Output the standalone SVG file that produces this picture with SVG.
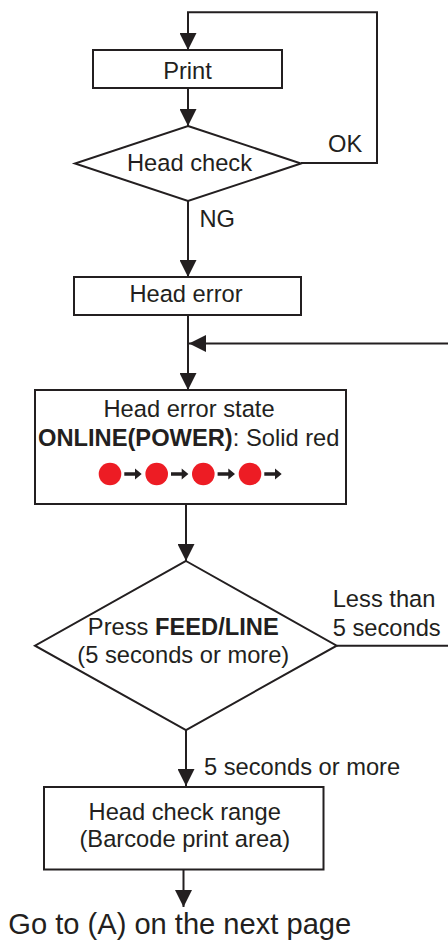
<svg xmlns="http://www.w3.org/2000/svg" width="448" height="941" viewBox="0 0 448 941">
<style>
.box{fill:#fff;stroke:#231f20;stroke-width:2}
.ln{fill:none;stroke:#231f20;stroke-width:2}
text{font-family:"Liberation Sans",Arial,sans-serif;font-size:23.7px;fill:#231f20}
.c{text-anchor:middle}
.b{font-weight:bold}
.dot{fill:#ed1c24}
.sa{fill:#231f20}
</style>
<defs>
<marker id="ah" markerUnits="userSpaceOnUse" markerWidth="17" markerHeight="17" refX="17" refY="8.5" orient="auto" viewBox="0 0 17 17">
<path d="M0,0 L17,8.5 L0,17 z" fill="#231f20"/>
</marker>
</defs>
<rect width="448" height="941" fill="#fff"/>
<g id="connectors">
<polyline class="ln" points="301,163 377,163 377,12.3 188,12.3 188,50" marker-end="url(#ah)"/>
<line class="ln" x1="188" y1="88" x2="188" y2="126" marker-end="url(#ah)"/>
<line class="ln" x1="188" y1="201" x2="188" y2="277" marker-end="url(#ah)"/>
<line class="ln" x1="188" y1="315" x2="188" y2="390" marker-end="url(#ah)"/>
<line class="ln" x1="448" y1="343.5" x2="189" y2="343.5" marker-end="url(#ah)"/>
<line class="ln" x1="186" y1="504" x2="186" y2="561" marker-end="url(#ah)"/>
<line class="ln" x1="336.7" y1="645.7" x2="448" y2="645.7"/>
<line class="ln" x1="186" y1="730" x2="186" y2="786" marker-end="url(#ah)"/>
<line class="ln" x1="183.5" y1="869.5" x2="183.5" y2="907" marker-end="url(#ah)"/>
<text x="328" y="152">OK</text>
<text x="199.5" y="227">NG</text>
<text x="332.7" y="607.3">Less than</text>
<text x="332.7" y="636">5 seconds</text>
<text x="204" y="775">5 seconds or more</text>
</g>
<g id="print">
<rect class="box" x="93" y="50" width="189" height="38"/>
<text class="c" x="187.5" y="79">Print</text>
</g>
<g id="head-check">
<polygon class="box" points="188,126 301,163.5 188,201 75,163.5"/>
<text class="c" x="189.5" y="171">Head check</text>
</g>
<g id="head-error">
<rect class="box" x="74" y="277" width="227" height="38"/>
<text class="c" x="186" y="301.7">Head error</text>
</g>
<g id="head-error-state">
<rect class="box" x="35" y="390" width="311" height="114"/>
<text class="c" x="189" y="416.7">Head error state</text>
<text class="c" x="188.7" y="445.7"><tspan class="b">ONLINE(POWER)</tspan>: Solid red</text>
<circle class="dot" cx="110" cy="474" r="11.3"/>
<circle class="dot" cx="156.7" cy="474" r="11.3"/>
<circle class="dot" cx="203.3" cy="474" r="11.3"/>
<circle class="dot" cx="250" cy="474" r="11.3"/>
<path class="sa" d="M124.3,472.3 H135 V468.5 L141.7,474 L135,479.5 V475.7 H124.3 z"/>
<path class="sa" d="M171,472.3 H181.7 V468.5 L188.4,474 L181.7,479.5 V475.7 H171 z"/>
<path class="sa" d="M217.6,472.3 H228.3 V468.5 L235,474 L228.3,479.5 V475.7 H217.6 z"/>
<path class="sa" d="M264.3,472.3 H275 V468.5 L281.7,474 L275,479.5 V475.7 H264.3 z"/>
</g>
<g id="press-feed">
<polygon class="box" points="186,561 336.7,645.7 186,730 35,645.7"/>
<text class="c" x="183.3" y="635">Press <tspan class="b">FEED/LINE</tspan></text>
<text class="c" x="183.3" y="663.3">(5 seconds or more)</text>
</g>
<g id="head-check-range">
<rect class="box" x="44" y="787" width="279.5" height="82.5"/>
<text class="c" x="184.7" y="820">Head check range</text>
<text class="c" x="184.8" y="847.3">(Barcode print area)</text>
</g>
<g id="goto">
<text x="8.3" y="934" style="font-size:29.1px">Go to (A) on the next page</text>
</g>
</svg>
